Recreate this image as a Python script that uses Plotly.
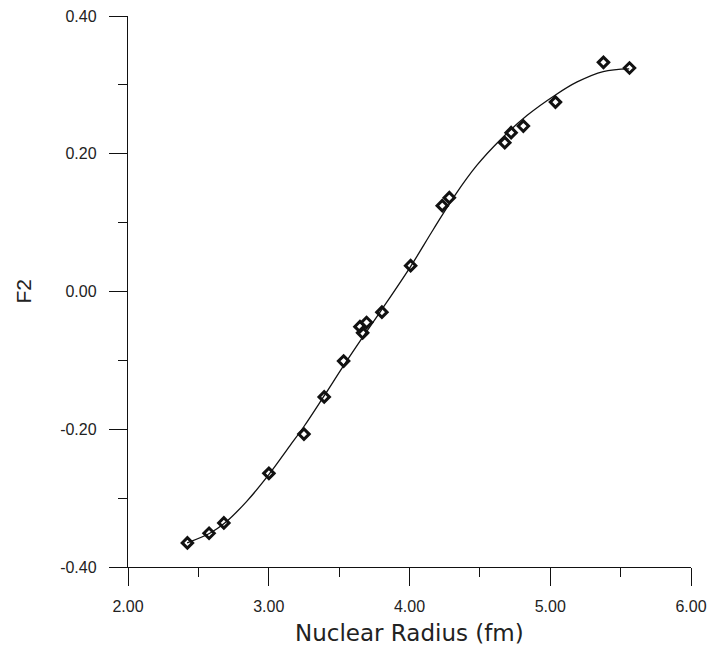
import plotly.graph_objects as go

# Measured data points (Nuclear radius in fm, F2)
radius = [2.422, 2.576, 2.681, 3.001, 3.250, 3.394, 3.532, 3.648, 3.695, 3.667,
          3.804, 4.008, 4.233, 4.283, 4.677, 4.722, 4.809, 5.037, 5.378, 5.563]
f2 = [-0.365, -0.351, -0.336, -0.264, -0.207, -0.153, -0.101, -0.051, -0.045, -0.060,
      -0.030, 0.0375, 0.1246, 0.1362, 0.2161, 0.2306, 0.2402, 0.275, 0.3327, 0.3245]

# Fitted curve
curve_x = [2.420, 2.581, 2.683, 2.842, 2.996, 3.150, 3.250, 3.392, 3.531, 3.669,
           3.804, 4.004, 4.169, 4.324, 4.478, 4.644, 4.834, 5.037, 5.191, 5.376, 5.561]
curve_y = [-0.365, -0.351, -0.337, -0.305, -0.267, -0.224, -0.196, -0.152, -0.108, -0.066,
           -0.026, 0.035, 0.090, 0.140, 0.183, 0.220, 0.2555, 0.2854, 0.3043, 0.3194, 0.3232]

x_ticks = [2, 3, 4, 5, 6]
x_tick_labels = ["2.00", "3.00", "4.00", "5.00", "6.00"]
y_ticks = [-0.4, -0.2, 0.0, 0.2, 0.4]
y_tick_labels = ["-0.40", "-0.20", "0.00", "0.20", "0.40"]

fig = go.Figure()
fig.add_trace(go.Scatter(x=curve_x, y=curve_y, mode="lines",
                         line=dict(color="#111111", width=1.3, shape="spline", smoothing=1.0),
                         showlegend=False, hoverinfo="skip"))
fig.add_trace(go.Scatter(x=radius, y=f2, mode="markers",
                         marker=dict(symbol="diamond-open", size=8, color="#111111",
                                     line=dict(width=3, color="#111111")),
                         showlegend=False))

tickfont = dict(family="Liberation Sans, Arial, sans-serif", size=16, color="#222222")
axis_common = dict(showgrid=False, zeroline=False, showline=True, linecolor="#111111",
                   linewidth=1.4, ticks="outside", ticklen=18, tickwidth=1.4,
                   tickcolor="#111111", tickfont=tickfont, automargin=False)

fig.update_xaxes(range=[2, 6], tickvals=x_ticks, ticktext=x_tick_labels, ticklabelstandoff=7,
                 minor=dict(ticks="outside", ticklen=9, dtick=0.5, tickwidth=1.4,
                            tickcolor="#111111"),
                 **axis_common)
fig.update_yaxes(range=[-0.4, 0.4], tickvals=y_ticks, ticktext=y_tick_labels, ticklabelstandoff=9,
                 minor=dict(ticks="outside", ticklen=9, dtick=0.1, tickwidth=1.4,
                            tickcolor="#111111"),
                 **axis_common)

fig.add_annotation(text="Nuclear Radius (fm)", xref="paper", yref="paper",
                   x=0.5, y=-0.12, xanchor="center", yanchor="middle", showarrow=False,
                   font=dict(family="DejaVu Sans, Arial, sans-serif", size=23, color="#222222"))
fig.add_annotation(text="F2", xref="paper", yref="paper",
                   x=(23 - 128) / 563, y=0.5, xanchor="center", yanchor="middle",
                   showarrow=False, textangle=-90,
                   font=dict(family="Liberation Sans, Arial, sans-serif", size=21, color="#222222"))

fig.update_layout(width=709, height=647, margin=dict(l=128, r=18, t=16, b=80),
                  paper_bgcolor="white", plot_bgcolor="white")

fig.write_html("out.html")
